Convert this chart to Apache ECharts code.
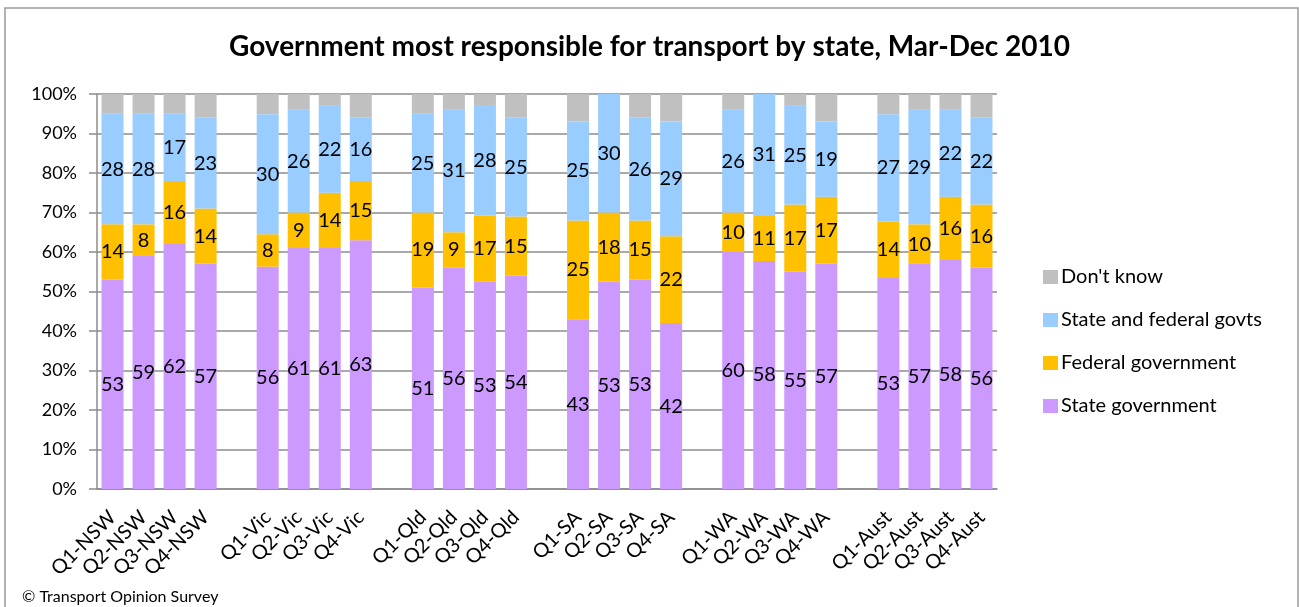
<!DOCTYPE html>
<html>
<head>
<meta charset="utf-8">
<script src="https://cdn.jsdelivr.net/npm/echarts@6/dist/echarts.min.js"></script>
<style>
html,body{margin:0;padding:0;background:#fff;}
#c{width:1299px;height:607px;}
</style>
</head>
<body>
<div id="c"></div>
<script>
var categories = ['Q1-NSW','Q2-NSW','Q3-NSW','Q4-NSW','',
  'Q1-Vic','Q2-Vic','Q3-Vic','Q4-Vic',' ',
  'Q1-Qld','Q2-Qld','Q3-Qld','Q4-Qld','  ',
  'Q1-SA','Q2-SA','Q3-SA','Q4-SA','   ',
  'Q1-WA','Q2-WA','Q3-WA','Q4-WA','    ',
  'Q1-Aust','Q2-Aust','Q3-Aust','Q4-Aust'];
var stateGov   = [53,59,62,57,'-',56.3,61,61,63,'-',51,56,52.6,54,'-',43,52.5,53,42,'-',60,57.7,55,57,'-',53.4,57,58,56];
var federalGov = [14,8,16,14,'-',8.2,9,14,15,'-',19,9,16.6,15,'-',25,17.5,15,22,'-',10,11.4,17,17,'-',14.3,10,16,16];
var stateFed   = [28,28,17,23,'-',30.4,26,22,16,'-',25,31,28,25,'-',25,30,26,29,'-',26,30.9,25,19,'-',27.2,29,22,22];
var dontKnow   = [5,5,5,6,'-',5.1,4,3.5,6,'-',5,4,2.8,6,'-',7,0,6,7,'-',4,0,3,7,'-',5.1,4,4,6];
var yTicks = [0,10,20,30,40,50,60,70,80,90,100];

var FONT = 'Lato';
var chart = echarts.init(document.getElementById('c'));
function lbl(){return {show:true,position:'inside',color:'#000',fontFamily:FONT,fontSize:20,
  formatter:function(p){return Math.round(p.value);}};}
chart.setOption({
  animation:false,
  backgroundColor:'#fff',
  title:{text:'Government most responsible for transport by state, Mar-Dec 2010',left:'center',top:28,
    textStyle:{fontFamily:FONT,fontWeight:'bold',fontSize:28,color:'#000'}},
  legend:{orient:'vertical',left:1038,top:262,icon:'rect',itemWidth:15,itemHeight:14,itemGap:23,
    data:["Don't know",'State and federal govts','Federal government','State government'],
    textStyle:{fontFamily:FONT,fontSize:20,color:'#000',lineHeight:20,padding:[0,0,0,-2]}},
  grid:{left:97,top:94,width:900,height:395,containLabel:false},
  xAxis:{type:'category',data:categories,
    axisLine:{lineStyle:{color:'#8c8c8c',width:1.5}},
    axisTick:{show:false},
    axisLabel:{interval:0,rotate:45,margin:25,color:'#000',fontFamily:FONT,fontSize:20}},
  yAxis:{type:'value',min:0,max:100,interval:10,
    axisLine:{show:true,lineStyle:{color:'#8c8c8c',width:1.5}},
    axisTick:{show:true,length:8,lineStyle:{color:'#8c8c8c',width:1.5}},
    splitLine:{lineStyle:{color:'#8c8c8c',width:1.5}},
    axisLabel:{margin:20,color:'#000',fontFamily:FONT,fontSize:18,
      customValues:yTicks,formatter:'{value}%'}},
  series:[
    {name:'State government',type:'bar',stack:'a',barWidth:22,data:stateGov,itemStyle:{color:'#CC99FF'},label:lbl()},
    {name:'Federal government',type:'bar',stack:'a',barWidth:22,data:federalGov,itemStyle:{color:'#FFC000'},label:lbl()},
    {name:'State and federal govts',type:'bar',stack:'a',barWidth:22,data:stateFed,itemStyle:{color:'#99CCFF'},label:lbl()},
    {name:"Don't know",type:'bar',stack:'a',barWidth:22,data:dontKnow,itemStyle:{color:'#C0C0C0'},label:{show:false}}
  ],
  graphic:[
    {type:'rect',shape:{x:5,y:8,width:1293,height:700},style:{fill:'none',stroke:'#9a9a9a',lineWidth:1.5},silent:true},
    {type:'text',left:22,top:589,style:{text:'© Transport Opinion Survey',fontFamily:FONT,fontSize:16,fill:'#000'}}
  ]
});
</script>
</body>
</html>
